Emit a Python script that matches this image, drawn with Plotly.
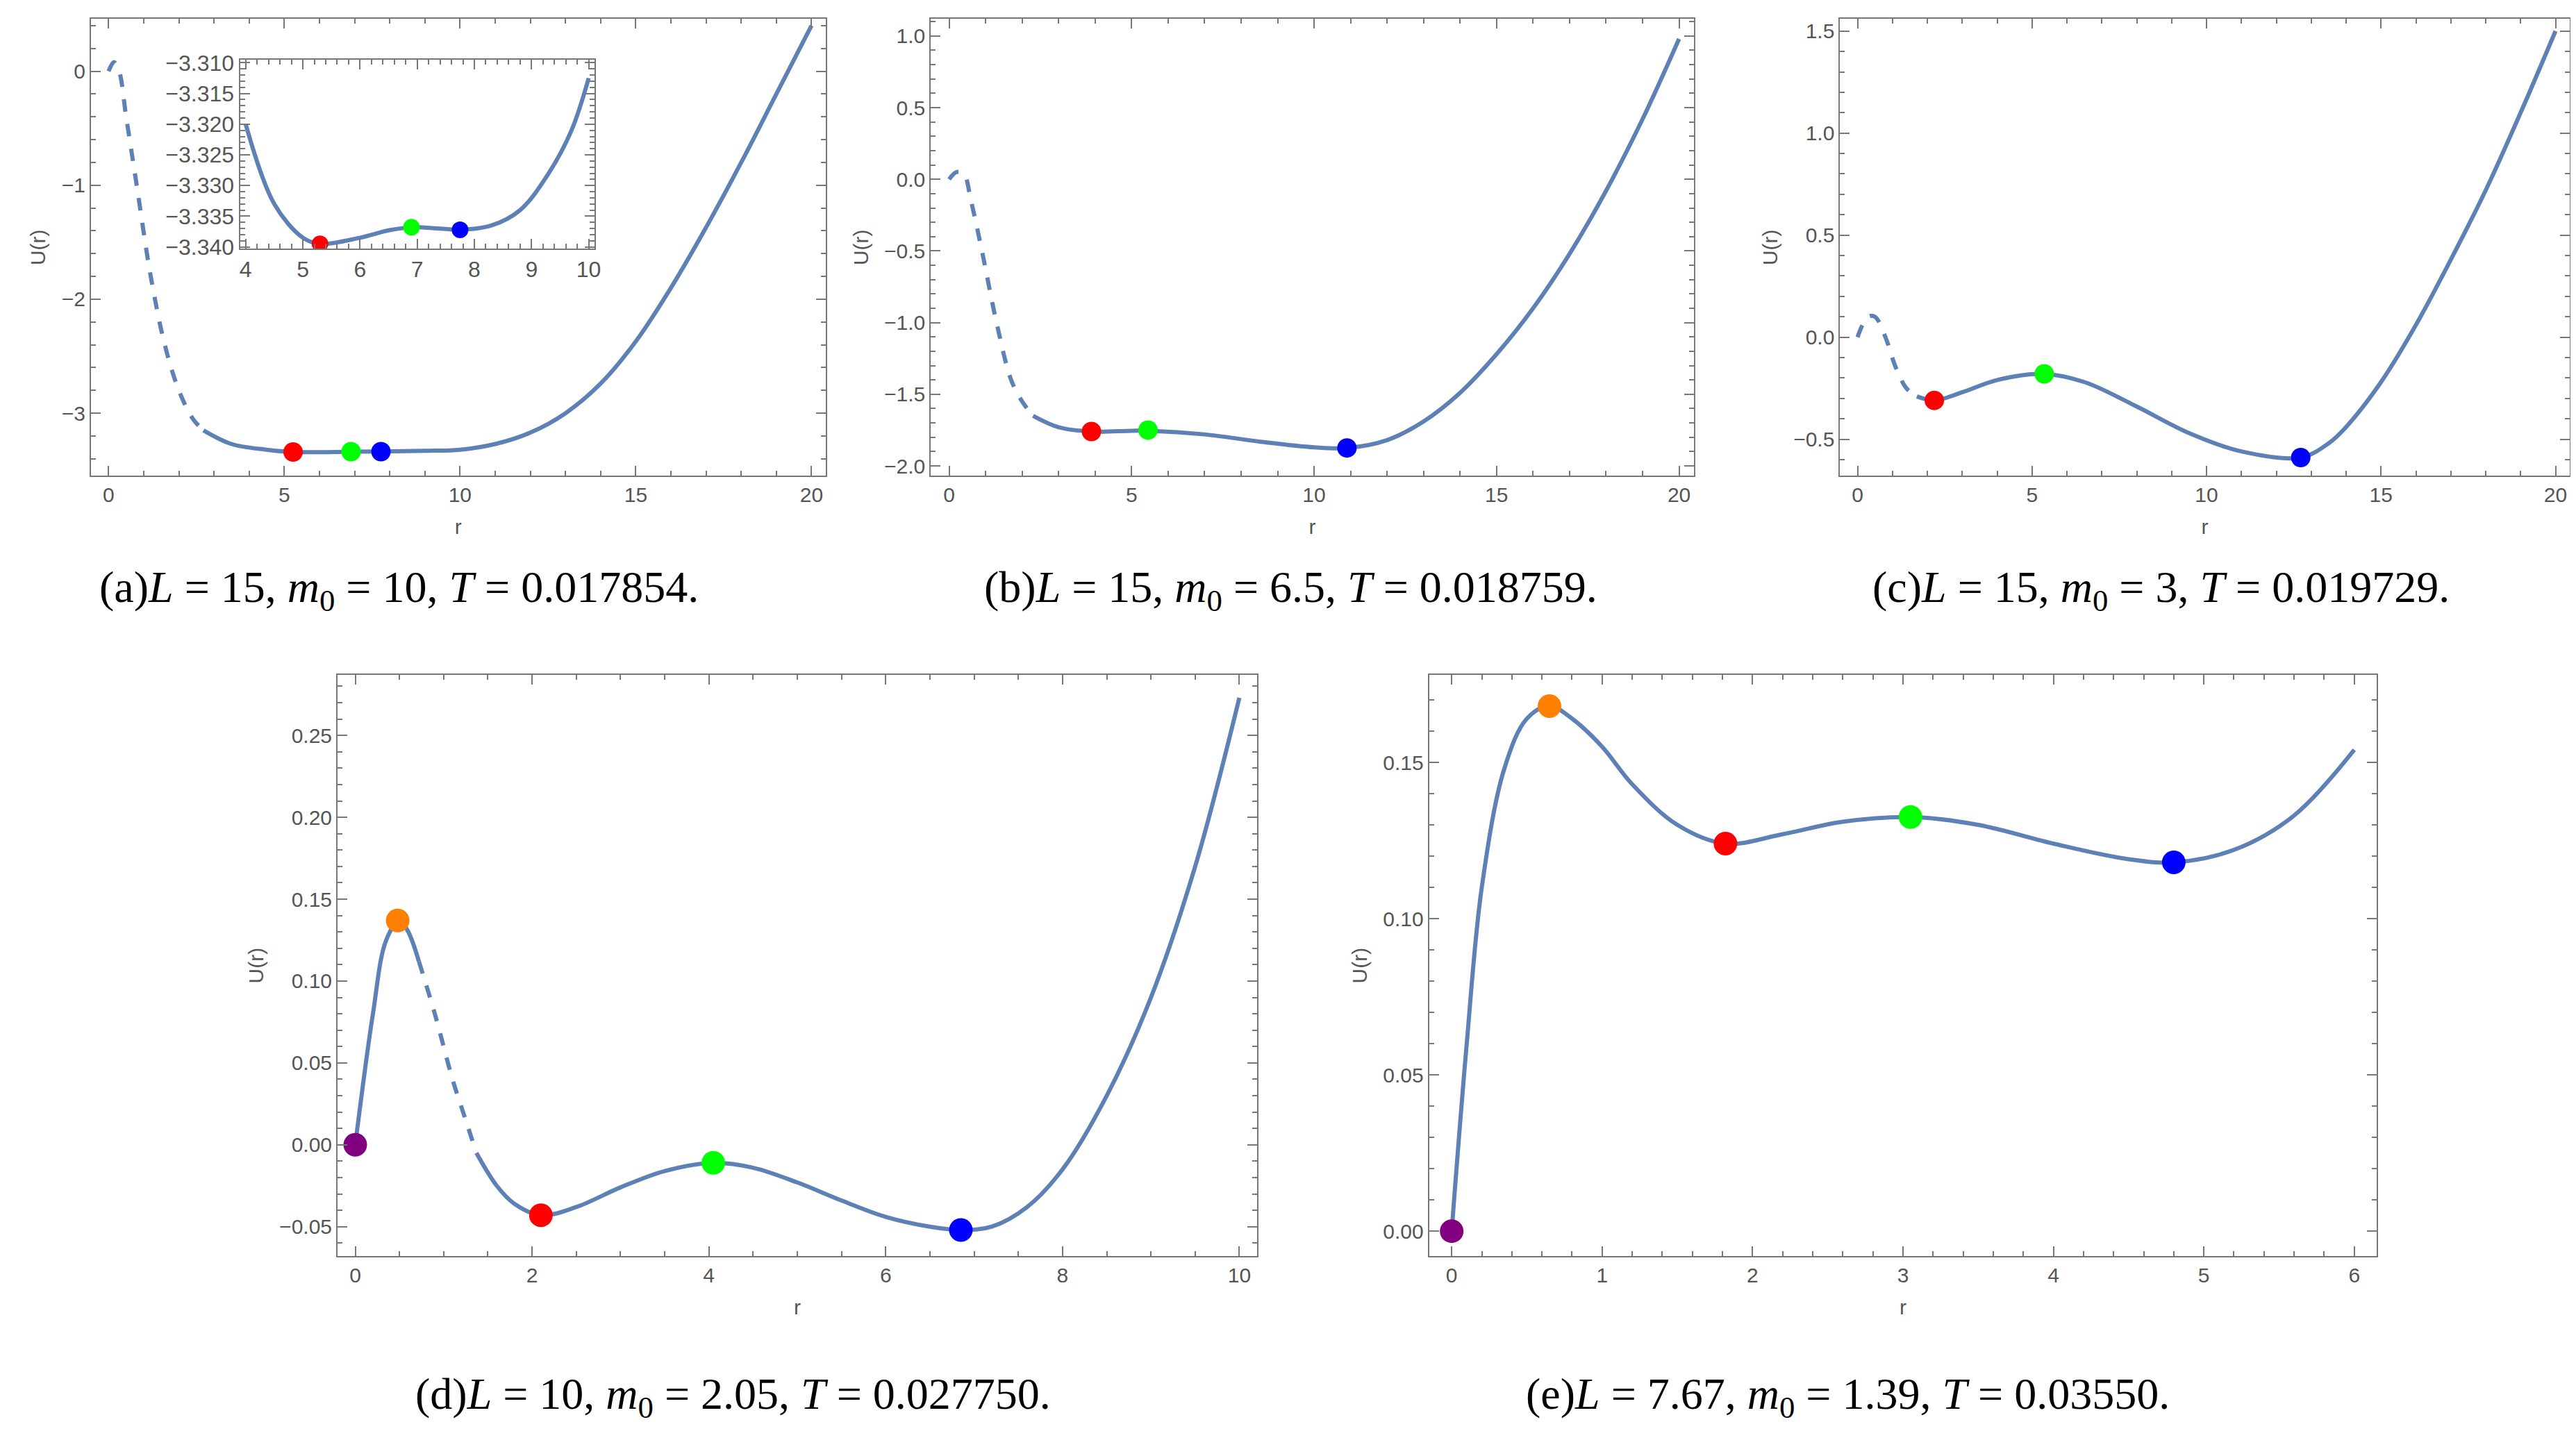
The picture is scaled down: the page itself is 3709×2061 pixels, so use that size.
import plotly.graph_objects as go

BLUE = "#5E81B5"
RED, GREEN, DBLUE, ORANGE, PURPLE = "#FF0000", "#00FF00", "#0000FF", "#FF8000", "#800080"

# panel (a)
a_dash_r = [0, 0.15, 0.3, 0.5, 0.8, 1.2, 1.6, 2.0, 2.4, 2.7]
a_dash_u = [0.0, 0.08, 0.0, -0.4, -1.0, -1.8, -2.4, -2.8, -3.05, -3.15]
a_r = [2.7, 3.5, 4.5, 5.25, 7, 9, 10, 11, 12, 13, 14, 15, 16, 17, 18, 19, 20]
a_u = [-3.15, -3.27, -3.32, -3.34, -3.337, -3.33, -3.32, -3.27, -3.17, -3.0, -2.74, -2.37, -1.9, -1.37, -0.8, -0.2, 0.4]
a_pts_r = [5.25, 6.9, 7.75]
a_pts_u = [-3.34, -3.337, -3.337]
# inset of (a)
in_r = [4, 4.5, 5, 5.3, 6, 6.5, 6.9, 7.4, 7.75, 8.3, 8.8, 9.3, 9.7, 10]
in_u = [-3.320, -3.333, -3.3385, -3.3395, -3.3385, -3.3373, -3.3368, -3.3370, -3.3372, -3.3365, -3.334, -3.328, -3.321, -3.3125]
in_pts_r = [5.3, 6.9, 7.75]
in_pts_u = [-3.3395, -3.3368, -3.3372]

# panel (b)
b_dash_r = [0, 0.2, 0.4, 0.6, 0.9, 1.3, 1.7, 2.0, 2.3]
b_dash_u = [0.0, 0.05, 0.04, -0.15, -0.5, -1.0, -1.4, -1.55, -1.65]
b_r = [2.3, 3, 3.9, 5, 5.5, 7, 8.5, 10, 10.9, 12, 13, 14, 15, 16, 17, 18, 19, 20]
b_u = [-1.65, -1.73, -1.76, -1.755, -1.755, -1.78, -1.83, -1.87, -1.875, -1.82, -1.69, -1.49, -1.22, -0.9, -0.52, -0.08, 0.42, 0.98]
b_pts_r = [3.9, 5.45, 10.9]
b_pts_u = [-1.76, -1.75, -1.875]

# panel (c)
c_dash_r = [0, 0.3, 0.5, 0.8, 1.1, 1.4, 1.7]
c_dash_u = [0.0, 0.1, 0.1, 0.0, -0.15, -0.25, -0.29]
c_r = [1.7, 2.2, 3, 4, 5.3, 6.5, 8, 9.5, 11, 12.7, 13.5, 14, 15, 16, 17, 18, 19, 20]
c_u = [-0.29, -0.31, -0.27, -0.21, -0.18, -0.22, -0.34, -0.47, -0.56, -0.59, -0.52, -0.44, -0.22, 0.06, 0.38, 0.72, 1.1, 1.5]
c_pts_r = [2.2, 5.35, 12.7]
c_pts_u = [-0.31, -0.18, -0.59]

# panel (d)
d_r1 = [0, 0.2, 0.35, 0.5, 0.6, 0.72]
d_u1 = [0.0, 0.08, 0.125, 0.137, 0.13, 0.112]
d_dash_r = [0.72, 0.9, 1.1, 1.25, 1.37]
d_dash_u = [0.112, 0.08, 0.04, 0.015, -0.005]
d_r2 = [1.37, 1.6, 1.8, 2.1, 2.5, 3, 3.5, 4.05, 4.5, 5, 5.5, 6, 6.5, 6.85, 7.2, 7.6, 8, 8.5, 9, 9.5, 10]
d_u2 = [-0.005, -0.025, -0.036, -0.043, -0.038, -0.026, -0.016, -0.011, -0.014, -0.023, -0.034, -0.044, -0.05, -0.052, -0.05, -0.038, -0.015, 0.03, 0.09, 0.17, 0.273]
d_pts_r = [0, 0.48, 2.1, 4.05, 6.85]
d_pts_u = [0.0, 0.137, -0.043, -0.011, -0.052]

# panel (e)
e_r = [0, 0.1, 0.2, 0.35, 0.5, 0.65, 0.8, 1, 1.2, 1.5, 1.82, 2.2, 2.6, 3.05, 3.5, 4, 4.5, 4.8, 5.2, 5.6, 6]
e_u = [0.0, 0.06, 0.11, 0.148, 0.164, 0.168, 0.164, 0.155, 0.143, 0.130, 0.124, 0.127, 0.131, 0.1325, 0.13, 0.124, 0.119, 0.118, 0.122, 0.133, 0.154]
e_pts_r = [0, 0.65, 1.82, 3.05, 4.8]
e_pts_u = [0.0, 0.168, 0.124, 0.1325, 0.118]

captions = [
    "(a)<i>L</i> = 15, <i>m</i><sub>0</sub> = 10, <i>T</i> = 0.017854.",
    "(b)<i>L</i> = 15, <i>m</i><sub>0</sub> = 6.5, <i>T</i> = 0.018759.",
    "(c)<i>L</i> = 15, <i>m</i><sub>0</sub> = 3, <i>T</i> = 0.019729.",
    "(d)<i>L</i> = 10, <i>m</i><sub>0</sub> = 2.05, <i>T</i> = 0.027750.",
    "(e)<i>L</i> = 7.67, <i>m</i><sub>0</sub> = 1.39, <i>T</i> = 0.03550.",
]

fig = go.Figure()


def line(ax, r, u, dash=False):
    fig.add_trace(go.Scatter(x=r, y=u, mode="lines", xaxis="x" + ax, yaxis="y" + ax,
                             line=dict(color=BLUE, width=6, shape="spline",
                                       dash="dash" if dash else "solid"),
                             showlegend=False))


def pts(ax, r, u, colors, size=28):
    fig.add_trace(go.Scatter(x=r, y=u, mode="markers", xaxis="x" + ax, yaxis="y" + ax,
                             marker=dict(color=colors, size=size), showlegend=False))


line("", a_dash_r, a_dash_u, True); line("", a_r, a_u); pts("", a_pts_r, a_pts_u, [RED, GREEN, DBLUE])
line("2", in_r, in_u); pts("2", in_pts_r, in_pts_u, [RED, GREEN, DBLUE], 24)
line("3", b_dash_r, b_dash_u, True); line("3", b_r, b_u); pts("3", b_pts_r, b_pts_u, [RED, GREEN, DBLUE])
line("4", c_dash_r, c_dash_u, True); line("4", c_r, c_u); pts("4", c_pts_r, c_pts_u, [RED, GREEN, DBLUE])
line("5", d_r1, d_u1); line("5", d_dash_r, d_dash_u, True); line("5", d_r2, d_u2)
pts("5", d_pts_r, d_pts_u, [PURPLE, ORANGE, RED, GREEN, DBLUE], 34)
line("6", e_r, e_u); pts("6", e_pts_r, e_pts_u, [PURPLE, ORANGE, RED, GREEN, DBLUE], 34)

TICKF = dict(family="Liberation Sans, Arial", size=30, color="#555555")


def axes(n, xd, yd, xr, yr, xdt, ydt, xminor, yminor, yfmt, titles=True, fs=30):
    tf = dict(TICKF, size=fs)
    common = dict(showline=True, linecolor="#777777", linewidth=2, mirror="ticks", ticks="inside",
                  ticklen=14, tickwidth=2, tickcolor="#777777", showgrid=False, zeroline=False,
                  tickfont=tf)
    xa = dict(common, domain=xd, range=xr, dtick=xdt, tick0=0,
              minor=dict(ticks="inside", ticklen=7, tickcolor="#777777", dtick=xminor, showgrid=False))
    ya = dict(common, domain=yd, range=yr, dtick=ydt, tick0=0, tickformat=yfmt,
              minor=dict(ticks="inside", ticklen=7, tickcolor="#777777", dtick=yminor, showgrid=False))
    sfx = "" if n == 1 else str(n)
    xa["anchor"] = "y" + sfx
    ya["anchor"] = "x" + sfx
    if titles:
        xa["title"] = dict(text="r", font=tf, standoff=20)
        ya["title"] = dict(text="U(r)", font=tf, standoff=14)
    fig.layout["xaxis" + sfx] = xa
    fig.layout["yaxis" + sfx] = ya


axes(1, [0.033, 0.319], [0.673, 0.997], [-0.5, 20.4], [-3.55, 0.46], 5, 1, 1, 0.2, ".0f")
axes(2, [0.091, 0.229], [0.834, 0.968], [3.9, 10.1], [-3.3403, -3.3095], 1, 0.005, 0.2, 0.001, ".3f", False, 32)
axes(3, [0.360, 0.657], [0.673, 0.997], [-0.5, 20.4], [-2.07, 1.12], 5, 0.5, 1, 0.1, ".1f")
axes(4, [0.714, 0.998], [0.673, 0.997], [-0.5, 20.4], [-0.68, 1.56], 5, 0.5, 1, 0.1, ".1f")
axes(5, [0.129, 0.487], [0.120, 0.532], [-0.2, 10.2], [-0.068, 0.287], 2, 0.05, 0.5, 0.01, ".2f")
axes(6, [0.554, 0.923], [0.120, 0.532], [-0.15, 6.15], [-0.008, 0.178], 1, 0.05, 0.2, 0.01, ".2f")

cap_pos = [(0.153, 0.592), (0.50, 0.592), (0.839, 0.592), (0.283, 0.02), (0.717, 0.02)]
for (cx, cy), txt in zip(cap_pos, captions):
    fig.add_annotation(x=cx, y=cy, xref="paper", yref="paper", text=txt, showarrow=False,
                       xanchor="center", yanchor="middle",
                       font=dict(family="Liberation Serif, DejaVu Serif", size=64, color="black"))

fig.update_layout(width=3709, height=2061, paper_bgcolor="white", plot_bgcolor="white",
                  margin=dict(l=0, r=0, t=0, b=0))
fig.write_html("out.html")
